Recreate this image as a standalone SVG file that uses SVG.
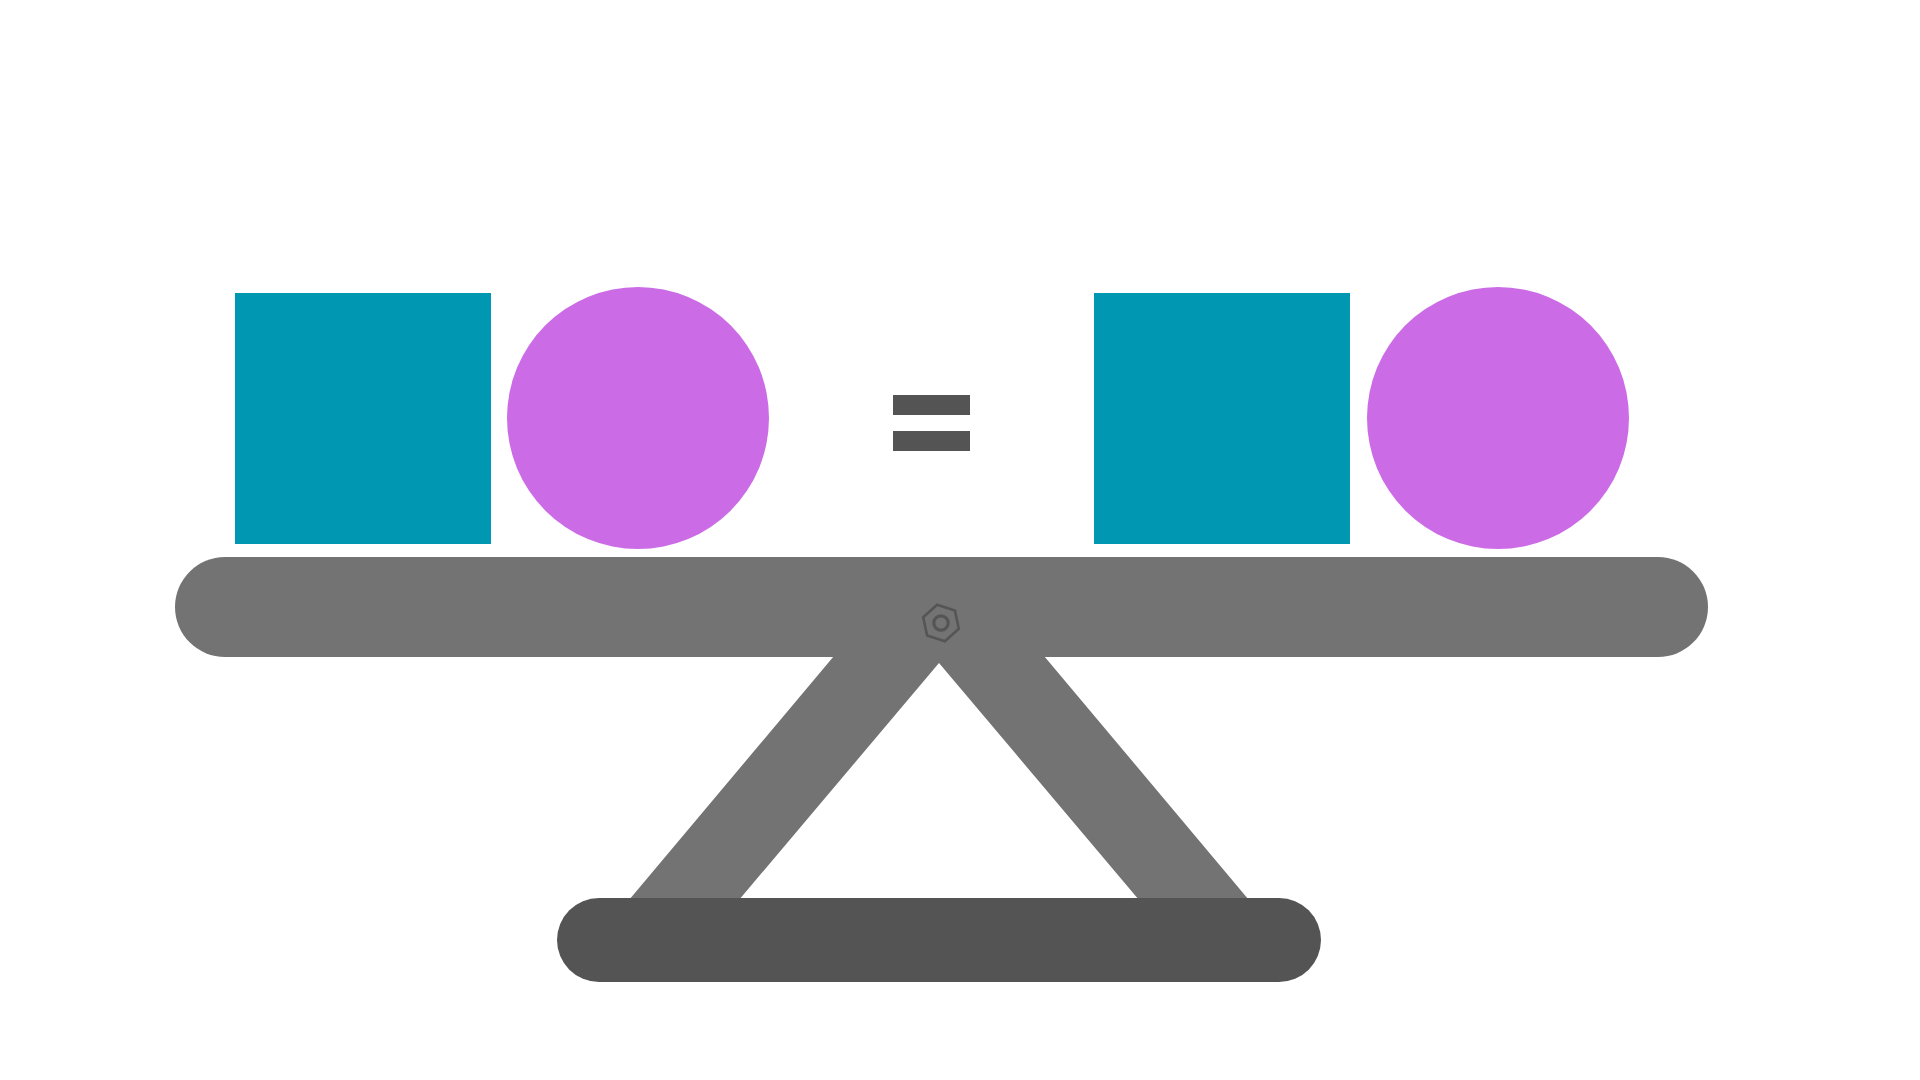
<svg xmlns="http://www.w3.org/2000/svg" width="1920" height="1080" viewBox="0 0 1920 1080">
  <style>
    .teal { fill: #0097b2; }
    .purple { fill: #cb6ce6; }
    .beam { fill: #737373; }
    .dark { fill: #545454; }
    .bolt { fill: none; stroke: #555555; }
  </style>
  <rect width="1920" height="1080" fill="#ffffff"/>
  <g id="legs">
    <polygon class="beam" points="847.4,640 595.4,940 705.2,940 939,663 1172.8,940 1282.6,940 1030.6,640"/>
  </g>
  <g id="beam">
    <rect class="beam" x="175" y="557" width="1533" height="100" rx="50" ry="50"/>
  </g>
  <g id="base">
    <rect class="dark" x="557" y="898" width="764" height="84" rx="42" ry="42"/>
  </g>
  <g id="pivot" transform="translate(941,623)">
    <polygon class="bolt" stroke-width="2.6" points="-3.9,-18.3 13.9,-12.5 17.8,5.8 3.9,18.3 -13.9,12.5 -17.8,-5.8"/>
    <circle class="bolt" stroke-width="3.2" r="7.2"/>
  </g>
  <g id="left-square">
    <rect class="teal" x="235" y="293" width="256" height="251"/>
  </g>
  <g id="left-circle">
    <circle class="purple" cx="638" cy="418" r="131"/>
  </g>
  <g id="equals">
    <rect class="dark" x="893" y="395" width="77" height="20"/>
    <rect class="dark" x="893" y="431" width="77" height="20"/>
  </g>
  <g id="right-square">
    <rect class="teal" x="1094" y="293" width="256" height="251"/>
  </g>
  <g id="right-circle">
    <circle class="purple" cx="1498" cy="418" r="131"/>
  </g>
</svg>
